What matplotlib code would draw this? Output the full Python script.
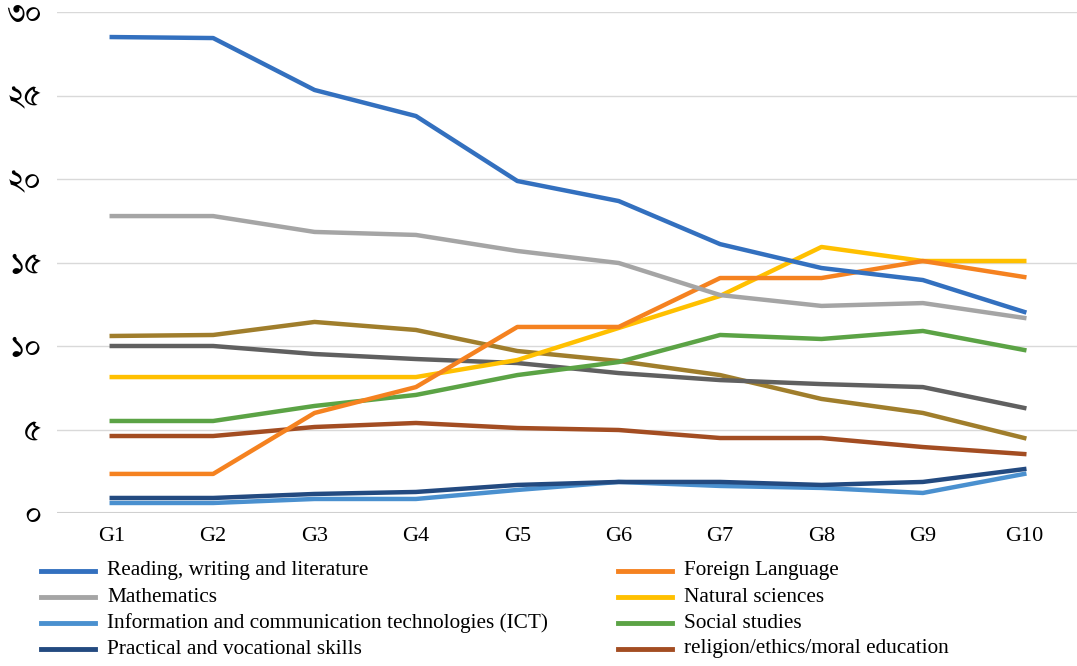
import matplotlib
matplotlib.use('agg')
import matplotlib.pyplot as plt
from matplotlib import font_manager
from matplotlib.ft2font import FT2Font

grades = ["G1", "G2", "G3", "G4", "G5", "G6", "G7", "G8", "G9", "G10"]
yticks = [0, 5, 10, 15, 20, 25, 30]
ytick_labels = ["০", "৫", "১০", "১৫", "২০", "২৫", "৩০"]

reading = [28.5, 28.44, 25.33, 23.77, 19.88, 18.68, 16.1, 14.67, 13.95, 12.04]
mathematics = [17.78, 17.78, 16.83, 16.65, 15.69, 14.97, 13.05, 12.4, 12.57, 11.68]
ict = [0.6, 0.6, 0.84, 0.84, 1.38, 1.86, 1.62, 1.5, 1.2, 2.34]
practical = [0.9, 0.9, 1.14, 1.26, 1.68, 1.86, 1.86, 1.68, 1.86, 2.63]
foreign = [2.34, 2.34, 5.99, 7.54, 11.14, 11.14, 14.07, 14.07, 15.09, 14.13]
natural = [8.14, 8.14, 8.14, 8.14, 9.16, 11.08, 13.0, 15.93, 15.09, 15.09]
social = [5.51, 5.51, 6.41, 7.07, 8.26, 9.04, 10.66, 10.42, 10.9, 9.76]
religion = [4.61, 4.61, 5.15, 5.39, 5.09, 4.97, 4.49, 4.49, 3.95, 3.53]
# two more series drawn in the chart but cut from its legend
other_gray = [10.0, 10.0, 9.52, 9.22, 8.98, 8.38, 7.96, 7.72, 7.54, 6.29]
other_olive = [10.6, 10.66, 11.44, 10.96, 9.7, 9.1, 8.26, 6.83, 5.99, 4.49]


def bengali_font(prefer=("FreeSerif", "Anek Bangla", "FreeSans")):
    # pick an installed regular-weight font file that has the Bengali digits
    found = []
    for f in font_manager.fontManager.ttflist:
        if f.style != "normal":
            continue
        try:
            cmap = FT2Font(f.fname).get_charmap()
        except Exception:
            continue
        if 0x09E6 in cmap and 0x09EB in cmap:
            found.append(f.name)
    for p in prefer:
        if p in found:
            return p
    return found[0] if found else "DejaVu Sans"


fig = plt.figure(figsize=(10.77, 6.66), dpi=100)
ax = fig.add_axes([57 / 1077, (666 - 513) / 666, 1020 / 1077, 501 / 666])

x = list(range(len(grades)))
lw = 3.2
ax.plot(x, other_olive, color="#A07E2C", lw=lw, zorder=3)
ax.plot(x, other_gray, color="#606060", lw=lw, zorder=3)
ax.plot(x, religion, color="#A34D22", lw=lw, zorder=3)
ax.plot(x, social, color="#5BA345", lw=lw, zorder=3)
ax.plot(x, natural, color="#FFC000", lw=lw, zorder=3)
ax.plot(x, foreign, color="#F58220", lw=lw, zorder=3)
ax.plot(x, ict, color="#4A90CF", lw=lw, zorder=3)
ax.plot(x, practical, color="#234A80", lw=lw, zorder=3)
ax.plot(x, mathematics, color="#A5A5A5", lw=lw, zorder=3)
ax.plot(x, reading, color="#3370BF", lw=lw, zorder=3)

ax.set_xlim(-0.54, 9.52)
ax.set_ylim(0, 30)
ax.set_yticks(yticks)
ax.set_yticklabels(ytick_labels,
                   family=[bengali_font(), "Anek Bangla", "DejaVu Sans"],
                   fontsize=25)
ax.set_xticks(x)
ax.set_xticklabels(grades, family="Liberation Serif", fontsize=16)
ax.tick_params(length=0)
ax.tick_params(axis="y", pad=11)
ax.tick_params(axis="x", pad=10)
for s in ax.spines.values():
    s.set_visible(False)
ax.grid(axis="y", color="#D9D9D9", lw=1)
ax.axhline(0, color="#D0D0D0", lw=1.5, zorder=2)
ax.set_axisbelow(True)

legend_items = [
    ("Reading, writing and literature", "#3370BF"),
    ("Mathematics", "#A5A5A5"),
    ("Information and communication technologies (ICT)", "#4A90CF"),
    ("Practical and vocational skills", "#234A80"),
    ("Foreign Language", "#F58220"),
    ("Natural sciences", "#FFC000"),
    ("Social studies", "#5BA345"),
    ("religion/ethics/moral education", "#A34D22"),
]
for i, (label, col) in enumerate(legend_items):
    col_i, row = divmod(i, 4)
    x0 = 41 if col_i == 0 else 618
    yy = 666 - (571 + row * 26)
    fig.add_artist(plt.Line2D([x0 / 1077, (x0 + 54) / 1077], [yy / 666, yy / 666],
                              color=col, lw=3.5))
    fig.text((x0 + 66) / 1077, yy / 666, label, family="Liberation Serif",
             fontsize=15.3, va="center", ha="left")

plt.savefig("out.png", dpi=100)
